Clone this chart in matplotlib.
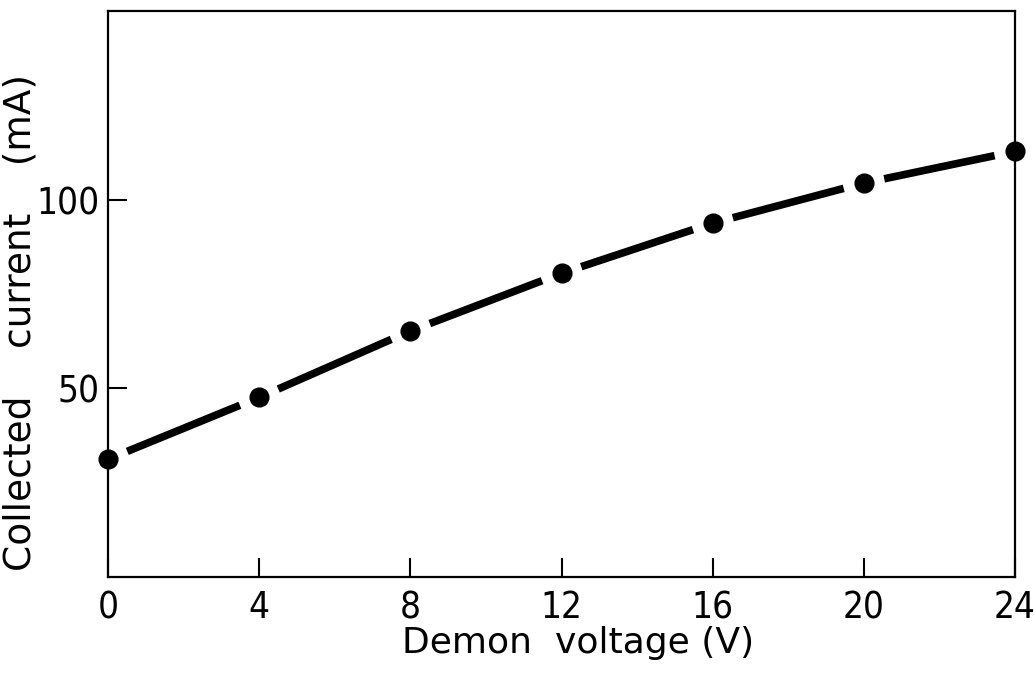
import matplotlib
matplotlib.use("Agg")
import matplotlib.pyplot as plt

voltage = [0, 4, 8, 12, 16, 20, 24]
current = [31.2, 47.6, 65.2, 80.5, 93.8, 104.4, 112.8]
xticks = [0, 4, 8, 12, 16, 20, 24]
yticks = [50, 100]

plt.rcParams['font.family'] = ['DejaVu Sans']

fig = plt.figure(figsize=(10.34, 6.75), dpi=100)
ax = fig.add_axes([108/1034, 1 - 577/675, (1015-108)/1034, (577-11)/675])

# line segments with gaps around markers
for i in range(len(voltage) - 1):
    ax.annotate('', xy=(voltage[i+1], current[i+1]), xytext=(voltage[i], current[i]),
                arrowprops=dict(arrowstyle='-', lw=5.5, color='black',
                                shrinkA=15, shrinkB=15, capstyle='butt'),
                annotation_clip=False)
ax.plot(voltage, current, 'o', color='black', markersize=13.5, clip_on=False, zorder=5)

ax.set_xlim(0, 24)
ax.set_ylim(0, 150)
ax.set_xticks(xticks)
ax.set_yticks(yticks)
ax.tick_params(axis='both', direction='in', length=14, width=1.5, labelsize=26.5)
ax.tick_params(axis='x', pad=9)
ax.tick_params(axis='y', pad=6)
for lab in ax.get_xticklabels() + ax.get_yticklabels():
    lab.set_stretch('condensed')
for s in ax.spines.values():
    s.set_linewidth(1.6)

ax.set_xlabel('Demon  voltage (V)', fontsize=26)
ax.xaxis.set_label_coords(0.518, -0.086)
ax.set_ylabel('Collected    current    (mA)', fontsize=27)
ax.yaxis.set_label_coords(-0.077, 0.449)

fig.savefig('out.png', dpi=100)
